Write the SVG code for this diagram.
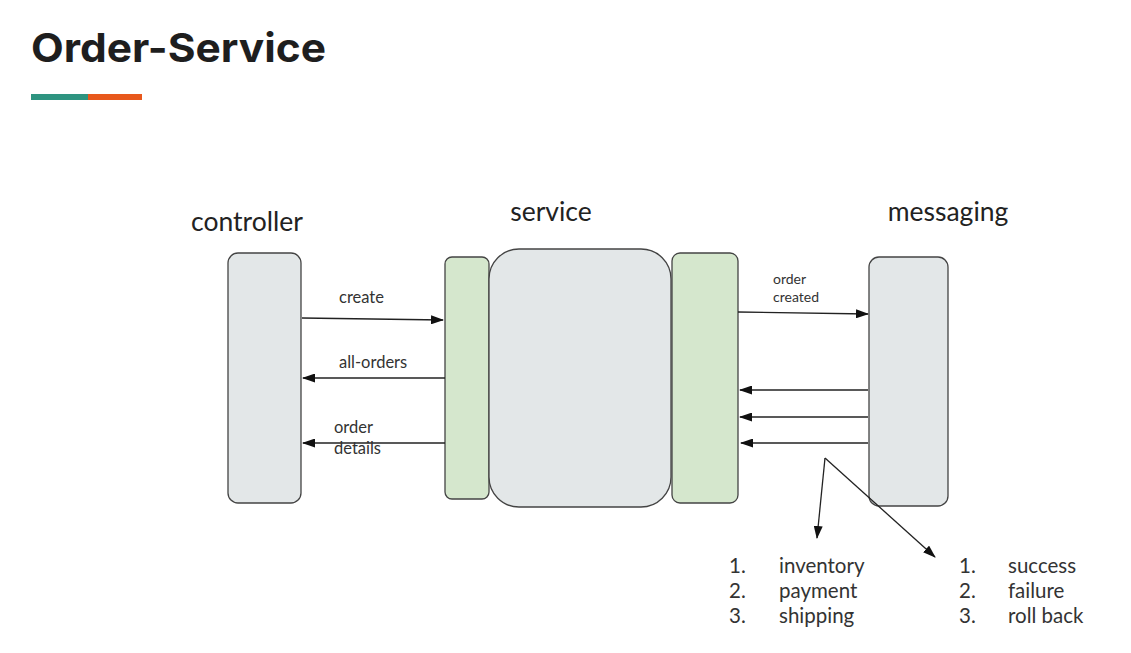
<svg xmlns="http://www.w3.org/2000/svg" width="1131" height="653" viewBox="0 0 1131 653">
<defs>
<marker id="ah" markerWidth="13" markerHeight="9" refX="12" refY="4.5" orient="auto" markerUnits="userSpaceOnUse">
<path d="M0,0 L13,4.5 L0,9 Z" fill="#111"/>
</marker>
<style>
.box{fill:#e3e7e8;stroke:#444;stroke-width:1.3}
.grn{fill:#d5e7cd;stroke:#444;stroke-width:1.3}
.hd{font-family:Lato,"Liberation Sans",sans-serif;font-size:26.5px;fill:#222}
.lb{font-family:Lato,"Liberation Sans",sans-serif;font-size:16.5px;fill:#333}
.lc{font-family:Lato,"Liberation Sans",sans-serif;font-size:14px;fill:#333}
.ls{font-family:Lato,"Liberation Sans",sans-serif;font-size:20.5px;fill:#333}
.ar{stroke:#222;stroke-width:1.3;fill:none;marker-end:url(#ah)}
</style>
</defs>
<rect width="1131" height="653" fill="#fff"/>
<text x="31" y="62" font-family="Inter,'Liberation Sans',sans-serif" font-weight="700" font-size="40" fill="#1e1e1e" textLength="295" lengthAdjust="spacingAndGlyphs">Order-Service</text>
<rect x="31" y="94" width="57" height="6" fill="#2e9480"/>
<rect x="88" y="94" width="54" height="6" fill="#e8581c"/>
<g id="controller">
<text class="hd" x="247" y="231" text-anchor="middle">controller</text>
<rect class="box" x="228" y="253" width="73" height="250" rx="10"/>
</g>
<g id="service">
<text class="hd" x="551" y="221" text-anchor="middle">service</text>
<rect class="grn" x="445" y="257" width="44" height="242" rx="7"/>
<rect class="box" x="489" y="249" width="182" height="258" rx="30"/>
<rect class="grn" x="672" y="253" width="66" height="250" rx="8"/>
</g>
<g id="messaging">
<text class="hd" x="948" y="221" text-anchor="middle">messaging</text>
<rect class="box" x="869" y="257" width="79" height="249" rx="10"/>
</g>
<g id="connectors">
<line class="ar" x1="302" y1="318" x2="443" y2="320"/>
<line class="ar" x1="445" y1="378" x2="303" y2="378"/>
<line class="ar" x1="445" y1="443" x2="303" y2="443"/>
<line class="ar" x1="738" y1="312" x2="868" y2="314"/>
<line class="ar" x1="868" y1="390" x2="740" y2="390"/>
<line class="ar" x1="868" y1="417" x2="740" y2="417"/>
<line class="ar" x1="868" y1="443" x2="741" y2="443"/>
<line class="ar" x1="825" y1="458" x2="817" y2="538"/>
<line class="ar" x1="825" y1="458" x2="935" y2="557"/>
</g>
<g id="labels">
<text class="lb" x="339" y="303">create</text>
<text class="lb" x="339" y="368">all-orders</text>
<text class="lb" x="334" y="433">order</text>
<text class="lb" x="334" y="454">details</text>
<text class="lc" x="773" y="284">order</text>
<text class="lc" x="773" y="302">created</text>
</g>
<g id="list1">
<text class="ls" x="729" y="573">1.</text><text class="ls" x="779" y="573">inventory</text>
<text class="ls" x="729" y="598">2.</text><text class="ls" x="779" y="598">payment</text>
<text class="ls" x="729" y="623">3.</text><text class="ls" x="779" y="623">shipping</text>
</g>
<g id="list2">
<text class="ls" x="959" y="573">1.</text><text class="ls" x="1008" y="573">success</text>
<text class="ls" x="959" y="598">2.</text><text class="ls" x="1008" y="598">failure</text>
<text class="ls" x="959" y="623">3.</text><text class="ls" x="1008" y="623">roll back</text>
</g>
</svg>
